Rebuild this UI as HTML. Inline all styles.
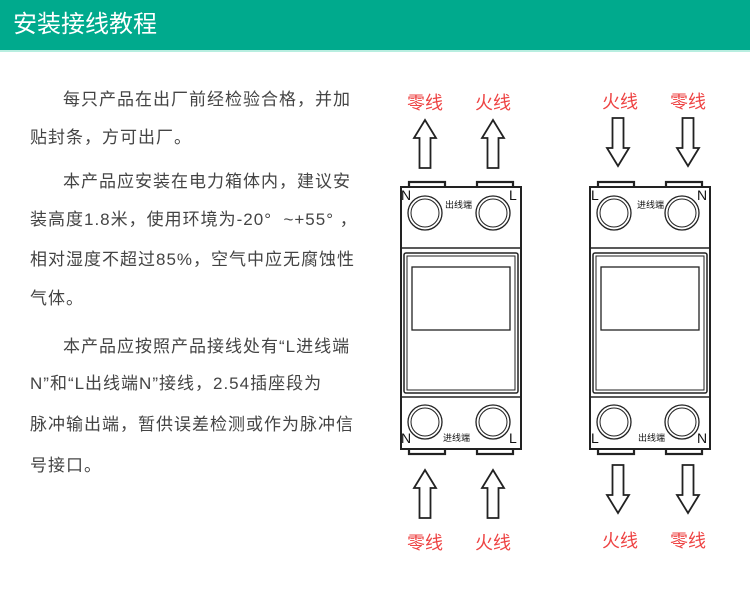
<!DOCTYPE html>
<html><head><meta charset="utf-8"><style>
body{margin:0;width:750px;height:600px;background:#fff;position:relative;overflow:hidden;font-family:"Liberation Sans","Noto Sans CJK SC",sans-serif}
.hd{position:absolute;left:0;top:0;width:750px;height:50px;background:#00aa8d;border-bottom:2px solid #b8eee0}
.hd span{position:absolute;left:13px;top:10px;color:#fff;font-size:24px;line-height:30px}
.t{position:absolute;left:30px;font-size:17px;letter-spacing:1px;color:#444;white-space:nowrap;line-height:20px}
svg{position:absolute;left:0;top:0}
</style></head><body>
<div class="hd"><span>安装接线教程</span></div>
<div class="t" style="top:90px;left:63px">每只产品在出厂前经检验合格，并加</div>
<div class="t" style="top:128px">贴封条，方可出厂。</div>
<div class="t" style="top:172px;left:63px">本产品应安装在电力箱体内，建议安</div>
<div class="t" style="top:210px">装高度1.8米，使用环境为-20°&nbsp;&nbsp;~+55°&nbsp;，</div>
<div class="t" style="top:250px">相对湿度不超过85%，空气中应无腐蚀性</div>
<div class="t" style="top:289px">气体。</div>
<div class="t" style="top:337px;left:63px">本产品应按照产品接线处有“L进线端</div>
<div class="t" style="top:374px">N”和“L出线端N”接线，2.54插座段为</div>
<div class="t" style="top:415px">脉冲输出端，暂供误差检测或作为脉冲信</div>
<div class="t" style="top:456px">号接口。</div>
<svg width="750" height="600" font-family="Liberation Sans,Noto Sans CJK SC,sans-serif">
<defs>
<g id="up" fill="#fff" stroke="#222" stroke-width="1.8"><path d="M0,0 L11,18 L5.5,18 L5.5,48 L-5.5,48 L-5.5,18 L-11,18 Z"/></g>
<g id="dn" fill="#fff" stroke="#222" stroke-width="1.8"><path d="M0,0 L11,-18 L5.5,-18 L5.5,-48 L-5.5,-48 L-5.5,-18 L-11,-18 Z"/></g>
<g id="dev" fill="none" stroke="#222">
<rect x="8" y="-5" width="36" height="6" stroke-width="2.2"/>
<rect x="76" y="-5" width="36" height="6" stroke-width="2.2"/>
<rect x="8" y="261" width="36" height="6" stroke-width="2.2"/>
<rect x="76" y="261" width="36" height="6" stroke-width="2.2"/>
<rect x="0" y="0" width="120" height="262" stroke-width="2" fill="#fff"/>
<line x1="0" y1="61" x2="120" y2="61" stroke-width="1.5"/>
<line x1="0" y1="210" x2="120" y2="210" stroke-width="1.5"/>
<rect x="3" y="66" width="114" height="140" rx="2" stroke-width="1.5"/>
<rect x="6" y="69" width="108" height="134" stroke-width="1"/>
<rect x="11" y="80" width="98" height="63" stroke-width="1.3"/>
<circle cx="24" cy="26" r="17" stroke-width="1.3"/><circle cx="24" cy="26" r="14" stroke-width="1"/>
<circle cx="92" cy="26" r="17" stroke-width="1.3"/><circle cx="92" cy="26" r="14" stroke-width="1"/>
<circle cx="24" cy="235" r="17" stroke-width="1.3"/><circle cx="24" cy="235" r="14" stroke-width="1"/>
<circle cx="92" cy="235" r="17" stroke-width="1.3"/><circle cx="92" cy="235" r="14" stroke-width="1"/>
</g>
</defs>
<use href="#dev" x="401" y="187"/>
<use href="#dev" x="590" y="187"/>
<g font-size="14" fill="#111">
<text x="401" y="200">N</text><text x="509" y="200">L</text>
<text x="401" y="443">N</text><text x="509" y="443">L</text>
<text x="591" y="200">L</text><text x="697" y="200">N</text>
<text x="591" y="443">L</text><text x="697" y="443">N</text>
</g>
<g font-size="9" fill="#111">
<text x="445" y="208">出线端</text><text x="443" y="441">进线端</text>
<text x="637" y="208">进线端</text><text x="638" y="441">出线端</text>
</g>
<use href="#up" x="425" y="120"/><use href="#up" x="493" y="120"/>
<use href="#up" x="425" y="470"/><use href="#up" x="493" y="470"/>
<use href="#dn" x="618" y="166"/><use href="#dn" x="688" y="166"/>
<use href="#dn" x="618" y="513"/><use href="#dn" x="688" y="513"/>
<g font-size="18" fill="#ee4444" text-anchor="middle">
<text x="425" y="109">零线</text><text x="493" y="109">火线</text>
<text x="620" y="108">火线</text><text x="688" y="108">零线</text>
<text x="425" y="549">零线</text><text x="493" y="549">火线</text>
<text x="620" y="547">火线</text><text x="688" y="547">零线</text>
</g>
</svg>
</body></html>
